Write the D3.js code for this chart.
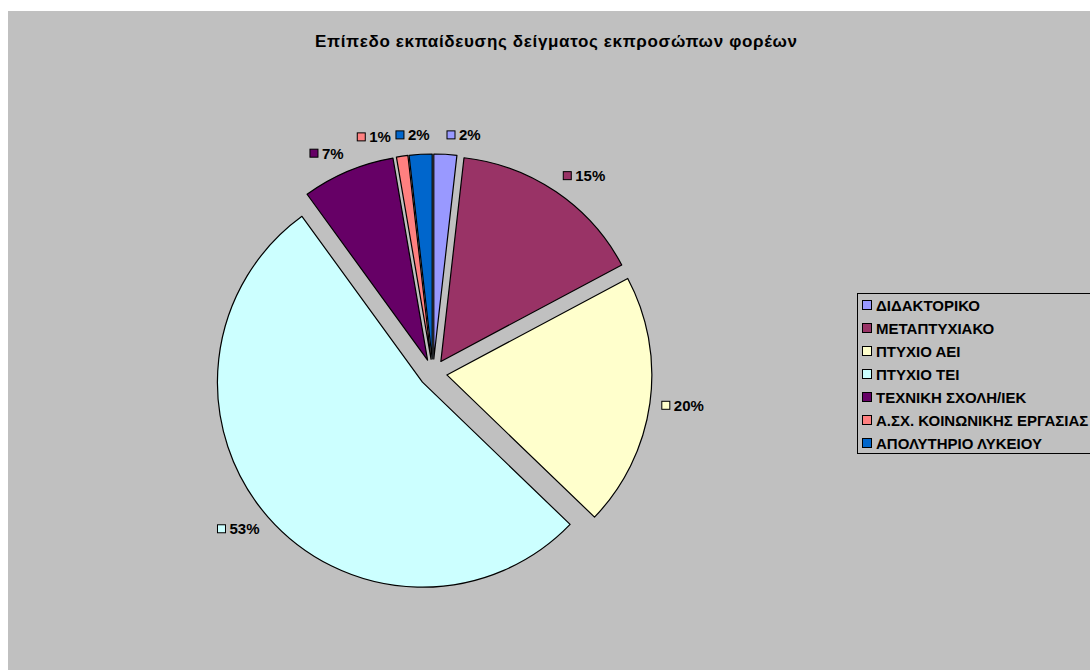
<!DOCTYPE html>
<html>
<head>
<meta charset="utf-8">
<script src="https://cdn.jsdelivr.net/npm/d3@7"></script>
<style>
  body { margin: 0; background: #fff; }
  text { font-family: "Liberation Sans", Arial, sans-serif; font-weight: bold; fill: #000; }
</style>
</head>
<body>
<svg id="chart" width="1090" height="670"></svg>
<script>
// data (shares of the sample, %)
var categories = ["ΔΙΔΑΚΤΟΡΙΚΟ", "ΜΕΤΑΠΤΥΧΙΑΚΟ", "ΠΤΥΧΙΟ ΑΕΙ", "ΠΤΥΧΙΟ ΤΕΙ",
                  "ΤΕΧΝΙΚΗ ΣΧΟΛΗ/ΙΕΚ", "Α.ΣΧ. ΚΟΙΝΩΝΙΚΗΣ ΕΡΓΑΣΙΑΣ", "ΑΠΟΛΥΤΗΡΙΟ ΛΥΚΕΙΟΥ"];
var values = [1.8, 15.4, 20, 52.8, 7.3, 0.9, 1.8];
var colors = ["#9999FF", "#993366", "#FFFFCC", "#CCFFFF", "#660066", "#FF8080", "#0066CC"];
var title = "Επίπεδο εκπαίδευσης δείγματος εκπροσώπων φορέων";

var svg = d3.select("#chart");

// chart area
svg.append("rect")
    .attr("x", 8).attr("y", 11)
    .attr("width", 1082).attr("height", 659)
    .attr("fill", "#C0C0C0");

svg.append("text")
    .attr("x", 556).attr("y", 47)
    .attr("text-anchor", "middle")
    .attr("textLength", 482)
    .attr("lengthAdjust", "spacing")
    .style("font-size", "17px")
    .text(title);

var cx = 433, cy = 373, radius = 205, explode = 14, labelR = 216;
var total = d3.sum(values);

var pie = d3.pie().sort(null).value(function(d) { return d; });
var arcs = pie(values);
var arc = d3.arc().innerRadius(0).outerRadius(radius);

function mid(d) { return (d.startAngle + d.endAngle) / 2; }

var g = svg.append("g").attr("transform", "translate(" + cx + "," + cy + ")");

g.selectAll("path.slice")
    .data(arcs)
  .enter().append("path")
    .attr("class", "slice")
    .attr("transform", function(d) {
      var a = mid(d);
      return "translate(" + (explode * Math.sin(a)) + "," + (-explode * Math.cos(a)) + ")";
    })
    .attr("d", arc)
    .attr("fill", function(d, i) { return colors[i]; })
    .attr("stroke", "#000")
    .attr("stroke-width", 1.2)
    .attr("stroke-linejoin", "round");

// data labels: square key + percentage
var boxH = 16;
var lab = g.selectAll("g.label")
    .data(arcs)
  .enter().append("g")
    .attr("class", "label");

lab.append("rect")
    .attr("x", 1).attr("y", 3.5)
    .attr("width", 8).attr("height", 8)
    .attr("fill", function(d, i) { return colors[i]; })
    .attr("stroke", "#000")
    .attr("stroke-width", 1);

lab.append("text")
    .attr("x", 13).attr("y", 13)
    .style("font-size", "15px")
    .text(function(d) { return Math.round(d.value / total * 100) + "%"; });

var labels = [];
lab.each(function(d) {
  var a = mid(d);
  var w = 13 + d3.select(this).select("text").node().getComputedTextLength();
  var px = (explode + labelR) * Math.sin(a), py = -(explode + labelR) * Math.cos(a);
  labels.push({
    node: this, w: w,
    left: Math.sin(a) >= 0 ? px : px - w,
    top: py - boxH / 2 - (boxH / 2) * Math.cos(a)
  });
});

// push apart labels that overlap
for (var it = 0; it < 20; it++) {
  labels.forEach(function(a) {
    labels.forEach(function(b) {
      if (a === b || a.left > b.left) return;
      var ov = a.left + a.w + 4 - b.left;
      if (ov > 0 && Math.abs(a.top - b.top) < boxH) {
        a.left -= ov / 2; b.left += ov / 2;
      }
    });
  });
}

labels.forEach(function(l) {
  d3.select(l.node).attr("transform", "translate(" + l.left + "," + l.top + ")");
});

// legend
var legend = svg.append("g").attr("transform", "translate(857,293)");
legend.append("rect")
    .attr("x", 0.5).attr("y", 0.5)
    .attr("width", 250).attr("height", 160)
    .attr("fill", "#C0C0C0")
    .attr("stroke", "#000")
    .attr("stroke-width", 1);

var item = legend.selectAll("g.item")
    .data(categories)
  .enter().append("g")
    .attr("class", "item")
    .attr("transform", function(d, i) { return "translate(0," + (12 + i * 23) + ")"; });

item.append("rect")
    .attr("x", 5.5).attr("y", -4.5)
    .attr("width", 9).attr("height", 9)
    .attr("fill", function(d, i) { return colors[i]; })
    .attr("stroke", "#000")
    .attr("stroke-width", 1);

item.append("text")
    .attr("x", 19).attr("y", 5.5)
    .style("font-size", "15px")
    .text(function(d) { return d; });
</script>
</body>
</html>
